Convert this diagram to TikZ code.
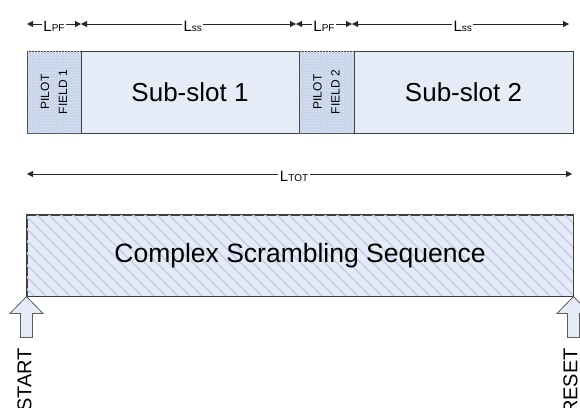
\documentclass[tikz,border=0pt]{standalone}
\usepackage{fontspec}
\setmainfont{Liberation Sans}
\usetikzlibrary{arrows.meta,patterns}
\definecolor{bord}{HTML}{404040}
\definecolor{lightfill}{HTML}{E6ECF7}
\definecolor{pilotfill}{HTML}{C6D3E9}
\definecolor{hatchc}{HTML}{C4D2E9}
\newcommand{\subsc}[1]{{\fontsize{10}{10}\selectfont #1}}
\begin{document}
\begin{tikzpicture}[x=1pt,y=-1pt,
  box/.style={draw=bord, line width=1pt, inner sep=0pt, minimum height=82pt, fill=lightfill},
  pilot/.style={box, fill=pilotfill, postaction={pattern=crosshatch dots, pattern color=white!65!pilotfill}},
  dim/.style={draw=black!85, line width=0.8pt, {Triangle[length=6pt,width=6pt]}-{Triangle[length=6pt,width=6pt]}},
  dimlab/.style={fill=white, inner xsep=1.5pt, inner ysep=0.5pt, yshift=-2.5pt, font=\fontsize{15}{15}\selectfont},
  bigtext/.style={font=\fontsize{26}{26}\selectfont},
  pft/.style={rotate=90, align=center, inner sep=0pt, font=\fontsize{12}{18}\selectfont},
  blockarrow/.style={draw=bord!85, line width=0.8pt, fill=lightfill},
  sidelab/.style={rotate=90, anchor=east, inner sep=0pt, font=\fontsize{20}{20}\selectfont},
  hatchline/.style={draw=hatchc, line width=1.6pt},
]
\useasboundingbox (0,0) rectangle (580,407);

% top dimension lines
\coordinate (t0) at (27,24);
\coordinate (t1) at (81,24);
\coordinate (t2) at (296,24);
\coordinate (t3) at (352,24);
\coordinate (t4) at (569,24);
\draw[dim] (t0) -- node[dimlab] {L\subsc{PF}} (t1);
\draw[dim] (t1) -- node[dimlab, pos=0.52] {L\subsc{ss}} (t2);
\draw[dim] (t2) -- node[dimlab] {L\subsc{PF}} (t3);
\draw[dim] (t3) -- node[dimlab, pos=0.51] {L\subsc{ss}} (t4);

% slot boxes
\node[pilot, minimum width=54pt] (pf1) at (54,92) {};
\node[box, minimum width=218pt] (ss1) at (190,92) {};
\node[pilot, minimum width=55pt] (pf2) at (326.5,92) {};
\node[box, minimum width=219pt] (ss2) at (463.5,92) {};
\node[pft] (pf1t) at (pf1.center) {PILOT\\FIELD 1};
\node[pft] (pf2t) at (pf2.center) {PILOT\\FIELD 2};
\node[bigtext] (ss1t) at (ss1.center) {Sub-slot 1};
\node[bigtext] (ss2t) at (ss2.center) {Sub-slot 2};

% total length
\coordinate (b0) at (27,174);
\coordinate (b1) at (572,174);
\draw[dim] (b0) -- node[dimlab, pos=0.49] {L\subsc{TOT}} (b1);

% scrambling sequence
\node[box, minimum width=546pt, minimum height=81pt] (scr) at (300,255.5) {};
\begin{scope}
  \clip (scr.south west) rectangle (scr.north east);
  \foreach \k in {0,...,56} \draw[hatchline] ({-60+12*\k},214) -- ({23+12*\k},297);
\end{scope}
\draw[draw=bord, line width=1pt] (scr.south west) rectangle (scr.north east);
\node[font=\fontsize{26.5}{26.5}\selectfont] (scrt) at (scr.center) {Complex Scrambling Sequence};

% start / reset block arrows
\draw[blockarrow] (scr.south west) -- ++(16.5,17) -- ++(-10.5,0) -- ++(0,24) -- ++(-12,0) -- ++(0,-24) -- ++(-10.5,0) -- cycle;
\draw[blockarrow] (scr.south east) -- ++(16.5,17) -- ++(-10.5,0) -- ++(0,24) -- ++(-12,0) -- ++(0,-24) -- ++(-10.5,0) -- cycle;
\node[sidelab] (start) at (24.5,348) {START};
\node[sidelab] (reset) at (570.5,348) {RESET};
\end{tikzpicture}
\end{document}
